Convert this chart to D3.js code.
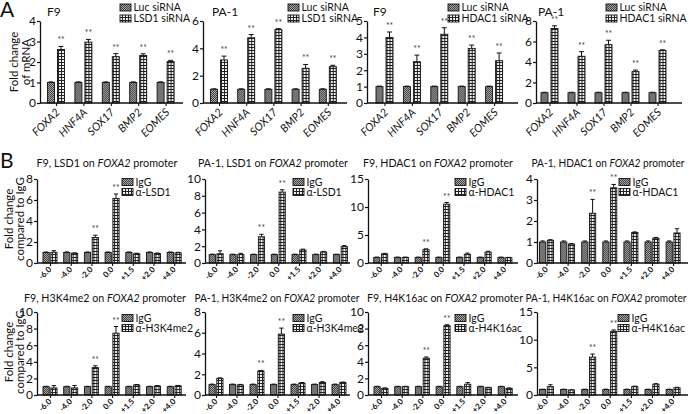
<!DOCTYPE html>
<html><head><meta charset="utf-8">
<script src="https://cdn.jsdelivr.net/npm/d3@7"></script>
<style>
body{margin:0;background:#fff}
text{font-family:Lato,"Open Sans",sans-serif;fill:#111}
</style>
</head><body>
<svg id="c" width="691" height="414"></svg>
<script>
// ---------- DATA ----------
const genes = ["FOXA2","HNF4A","SOX17","BMP2","EOMES"];
const sites = ["-6.0","-4.0","-2.0","0.0","+1.5","+2.0","+4.0"];

// Panel A: fold change of mRNA (control = Luc siRNA)
const a1Luc = [1,1,1,1,1],        a1LucErr = [0.03,0.03,0.03,0.03,0.03];
const a1Kd  = [2.61,2.97,2.26,2.32,2.02], a1KdErr = [0.15,0.13,0.15,0.08,0.06];
const a2Luc = [1,1,1,1,1],        a2LucErr = [0.04,0.04,0.04,0.04,0.04];
const a2Kd  = [3.15,4.77,5.37,2.54,2.66], a2KdErr = [0.28,0.24,0.07,0.28,0.1];
const a3Luc = [1,1,1,1,1],        a3LucErr = [0.03,0.03,0.03,0.03,0.03];
const a3Kd  = [3.99,2.52,4.19,3.33,2.58], a3KdErr = [0.34,0.4,0.4,0.2,0.47];
const a4Luc = [1,1,1,1,1],        a4LucErr = [0.05,0.05,0.05,0.05,0.05];
const a4Kd  = [7.27,4.56,5.69,3.06,5.12], a4KdErr = [0.26,0.45,0.43,0.15,0.07];
const aSig  = [true,true,true,true,true];

// Panel B: ChIP fold change compared to IgG
const bIgG    = [1,1,1,1,1,1,1];
const bIgGErr = [0.05,0.05,0.05,0.05,0.05,0.05,0.05];
const b1Ab = [1.02,0.92,2.43,6.15,0.88,0.9,0.97], b1AbErr = [0.15,0.05,0.22,0.42,0.05,0.05,0.05];
const b2Ab = [1.1,1.0,3.12,8.44,1.55,1.3,1.95],   b2AbErr = [0.35,0.15,0.3,0.28,0.1,0.08,0.12];
const b3Ab = [1.62,1.0,2.38,10.5,1.55,1.95,0.95], b3AbErr = [0.1,0.05,0.15,0.3,0.22,0.15,0.05];
const b4Ab = [1.08,0.9,2.37,3.58,1.45,1.18,1.43], b4AbErr = [0.03,0.03,0.66,0.16,0.03,0.04,0.2];
const b5Ab = [0.85,0.85,3.3,7.45,1.2,1.08,1.1],   b5AbErr = [0.28,0.3,0.22,0.8,0.06,0.05,0.05];
const b6Ab = [1.6,0.97,2.32,5.87,1.15,1.2,1.2],   b6AbErr = [0.05,0.05,0.05,0.58,0.05,0.08,0.05];
const b7Ab = [0.8,1.0,4.43,8.35,1.3,0.88,0.8],    b7AbErr = [0.05,0.05,0.15,0.12,0.2,0.05,0.05];
const b8Ab = [1.5,0.9,6.85,11.5,1.5,1.95,1.3],    b8AbErr = [0.35,0.05,0.55,0.25,0.1,0.1,0.1];
const bSig = [false,false,true,true,false,false,false];

// ---------- DRAW ----------
const svg = d3.select("#c");
const defs = svg.append("defs");
const pc = defs.append("pattern").attr("id","p_ctl").attr("patternUnits","userSpaceOnUse").attr("width",2).attr("height",2);
pc.append("rect").attr("width",2).attr("height",2).attr("fill","#a6a6a6");
pc.append("rect").attr("width",1).attr("height",1).attr("fill","#404040");
pc.append("rect").attr("x",1).attr("y",1).attr("width",1).attr("height",1).attr("fill","#404040");
const pt = defs.append("pattern").attr("id","p_trt").attr("patternUnits","userSpaceOnUse").attr("width",3).attr("height",3);
pt.append("rect").attr("width",3).attr("height",3).attr("fill","#222");
pt.append("rect").attr("width",2).attr("height",2).attr("fill","#f0f0f0");

function drawPanel(c){
  const g = svg.append("g");
  const n = c.cats.length;
  const x = d3.scalePoint().domain(c.cats).range([c.c1, c.c1 + c.step*(n-1)]);
  const sub = d3.scaleBand().domain(["ctl","trt"]).range([-c.half, c.half]).paddingInner(c.gap);
  const bw = sub.bandwidth();
  const y = d3.scaleLinear().domain([0,c.ymax]).range([c.yBot, c.yTop]);
  const rows = c.cats.map((k,i)=>({k, ctl:c.ctl[i], ctlE:c.ctlErr[i], trt:c.trt[i], trtE:c.trtErr[i], sig:c.sig[i]}));
  const grp = g.selectAll("g.grp").data(rows).join("g").attr("class","grp")
    .attr("transform", d=>`translate(${x(d.k)},0)`);
  ["ctl","trt"].forEach(s=>{
    const ex = sub(s)+bw/2;
    grp.append("line").attr("x1",ex).attr("x2",ex)
      .attr("y1",d=>y(d[s])).attr("y2",d=>y(d[s]+d[s+"E"]))
      .attr("stroke","#111").attr("stroke-width",1);
    grp.append("line").attr("x1",ex-bw*0.35).attr("x2",ex+bw*0.35)
      .attr("y1",d=>y(d[s]+d[s+"E"])).attr("y2",d=>y(d[s]+d[s+"E"]))
      .attr("stroke","#111").attr("stroke-width",1);
    grp.append("rect").attr("x",sub(s)).attr("width",bw)
      .attr("y",d=>y(d[s])).attr("height",d=>y(0)-y(d[s]))
      .attr("fill",`url(#p_${s})`).attr("stroke","#111").attr("stroke-width",0.9);
  });
  grp.filter(d=>d.sig).append("text")
    .attr("x", sub("trt")+bw/2).attr("y", d=>y(d.trt+d.trtE)-3)
    .attr("text-anchor","middle").attr("font-size",8.5).style("fill","#444").text("**");

  // y axis
  const ya = g.append("g").attr("transform",`translate(${c.x0},0)`)
    .call(d3.axisLeft(y).tickValues(d3.range(0,c.ymax+0.001,c.tickStep)).tickFormat(d3.format("d"))
      .tickSize(3).tickSizeOuter(0).tickPadding(1));
  ya.select(".domain").attr("stroke","#111").attr("stroke-width",1.3);
  ya.selectAll(".tick line").attr("stroke","#111").attr("stroke-width",1.2);
  ya.selectAll(".tick text").attr("font-size",12).style("font-family","Lato,sans-serif").attr("fill","#111");

  // x axis
  const xa = g.append("g").attr("transform",`translate(0,${c.yBot})`)
    .call(d3.axisBottom(x).tickSize(3).tickSizeOuter(0));
  xa.select(".domain").remove();
  xa.append("line").attr("x1",c.x0).attr("x2",c.axEnd).attr("stroke","#111").attr("stroke-width",1.3);
  xa.selectAll(".tick line").attr("stroke","#111").attr("stroke-width",1.1);
  const tt = xa.selectAll(".tick text").attr("y",null).attr("dy",null).attr("text-anchor","end")
    .attr("fill","#111").style("font-family","Lato,sans-serif");
  if(c.kind==="gene"){
    tt.attr("transform","translate(4,10) rotate(-45)").attr("font-size",11).style("font-style","italic");
  } else {
    tt.attr("transform","translate(1.5,7) rotate(-45)").attr("font-size",8).style("font-weight","bold").attr("fill","#222");
  }

  // title
  const t = g.append("text").attr("y",c.ty).attr("font-size",c.tSize);
  if(c.tLen){
    t.attr("x",c.tx - c.tLen/2).attr("text-anchor","start")
     .attr("textLength",c.tLen).attr("lengthAdjust","spacingAndGlyphs");
  } else {
    t.attr("x",c.tx).attr("text-anchor","start");
  }
  c.title.forEach(seg=>{
    t.append("tspan").text(seg[0]).style("font-style", seg[1] ? "italic" : "normal");
  });

  // legend
  c.legLabels.forEach((lab,i)=>{
    const ly = c.legY + i*c.legDy;
    g.append("rect").attr("x",c.legX).attr("y",ly-3.5).attr("width",11).attr("height",7)
      .attr("fill", i===0 ? "url(#p_ctl)" : "url(#p_trt)").attr("stroke","#111").attr("stroke-width",0.9);
    g.append("text").attr("x",c.legX+13.5).attr("y",ly).attr("dy","0.35em").attr("font-size",10.5).text(lab);
  });
}

const A = {kind:"gene", cats:genes, yTop:21, yBot:103, half:8.5, gap:0.3, sig:aSig, ty:16, tSize:12, legY:7.5, legDy:11};
drawPanel({...A, x0:40,  c1:56,    step:27.4, axEnd:183, ymax:4, tickStep:1, ctl:a1Luc, ctlErr:a1LucErr, trt:a1Kd, trtErr:a1KdErr,
  title:[["F9"]], tx:47, legX:120, legLabels:["Luc siRNA","LSD1 siRNA"]});
drawPanel({...A, x0:203, c1:219,   step:27.2, axEnd:347, ymax:6, tickStep:2, ctl:a2Luc, ctlErr:a2LucErr, trt:a2Kd, trtErr:a2KdErr,
  title:[["PA-1"]], tx:212, legX:288, legLabels:["Luc siRNA","LSD1 siRNA"]});
drawPanel({...A, x0:367, c1:384.5, step:27.4, axEnd:518, ymax:5, tickStep:1, ctl:a3Luc, ctlErr:a3LucErr, trt:a3Kd, trtErr:a3KdErr,
  title:[["F9"]], tx:373, legX:448, legLabels:["Luc siRNA","HDAC1 siRNA"]});
drawPanel({...A, x0:536, c1:549.5, step:27,   axEnd:682, ymax:8, tickStep:2, ctl:a4Luc, ctlErr:a4LucErr, trt:a4Kd, trtErr:a4KdErr,
  title:[["PA-1"]], tx:538, legX:606, legLabels:["Luc siRNA","HDAC1 siRNA"]});

const B1 = {kind:"site", cats:sites, yTop:179, yBot:263, half:7, gap:0.2, sig:bSig, ctl:bIgG, ctlErr:bIgGErr, ty:167, tSize:11, legY:182, legDy:10};
const B2 = {...B1, yTop:312, yBot:395, ty:302, legY:318};
drawPanel({...B1, x0:37,  c1:50,    step:20.7, axEnd:186, ymax:8,  tickStep:2, trt:b1Ab, trtErr:b1AbErr,
  title:[["F9, LSD1 on "],["FOXA2",1],[" promoter"]], tx:107, tLen:141, legX:122, legLabels:["IgG","α-LSD1"]});
drawPanel({...B1, x0:205, c1:216.2, step:20.7, axEnd:350, ymax:10, tickStep:2, trt:b2Ab, trtErr:b2AbErr,
  title:[["PA-1, LSD1 on "],["FOXA2",1],[" promoter"]], tx:273, tLen:150, legX:293, legLabels:["IgG","α-LSD1"]});
drawPanel({...B1, x0:368, c1:380.7, step:20.7, axEnd:518, ymax:15, tickStep:5, trt:b3Ab, trtErr:b3AbErr,
  title:[["F9, HDAC1 on "],["FOXA2",1],[" promoter"]], tx:438, tLen:150, legX:455, legLabels:["IgG","α-HDAC1"]});
drawPanel({...B1, x0:537, c1:546.5, step:21.1, axEnd:688, ymax:4,  tickStep:1, trt:b4Ab, trtErr:b4AbErr,
  title:[["PA-1, HDAC1 on "],["FOXA2",1],[" promoter"]], tx:608, tLen:153, legX:619, legLabels:["IgG","α-HDAC1"]});
drawPanel({...B2, x0:37,  c1:50,    step:20.7, axEnd:186, ymax:10, tickStep:2, trt:b5Ab, trtErr:b5AbErr,
  title:[["F9, H3K4me2 on "],["FOXA2",1],[" promoter"]], tx:105, tLen:162, legX:122, legLabels:["IgG","α-H3K4me2"]});
drawPanel({...B2, x0:205, c1:216,   step:20.5, axEnd:350, ymax:8,  tickStep:2, trt:b6Ab, trtErr:b6AbErr,
  title:[["PA-1, H3K4me2 on "],["FOXA2",1],[" promoter"]], tx:277, tLen:165, legX:293, legLabels:["IgG","α-H3K4me2"]});
drawPanel({...B2, x0:368, c1:381,   step:20.7, axEnd:518, ymax:10, tickStep:2, trt:b7Ab, trtErr:b7AbErr,
  title:[["F9, H4K16ac on "],["FOXA2",1],[" promoter"]], tx:445, tLen:156, legX:455, legLabels:["IgG","α-H4K16ac"]});
drawPanel({...B2, x0:537, c1:546.5, step:21.1, axEnd:688, ymax:15, tickStep:5, trt:b8Ab, trtErr:b8AbErr,
  title:[["PA-1, H4K16ac on "],["FOXA2",1],[" promoter"]], tx:606, tLen:161, legX:618, legLabels:["IgG","α-H4K16ac"]});

// panel letters and y-axis titles
svg.append("text").attr("x",0).attr("y",17).attr("font-size",21).text("A");
svg.append("text").attr("x",0).attr("y",168).attr("font-size",21).text("B");
function yTitle(lines, cx, cy){
  lines.forEach((l,i)=>{
    svg.append("text").attr("transform",`translate(${cx[i]},${cy}) rotate(-90)`)
      .attr("text-anchor","middle").attr("dy","0.35em").attr("font-size",11.5).text(l);
  });
}
yTitle(["Fold change","of mRNA"],[14,26],62);
yTitle(["Fold change","compared to IgG"],[9,20],219);
yTitle(["Fold change","compared to IgG"],[9,20],352);
</script>
</body></html>
